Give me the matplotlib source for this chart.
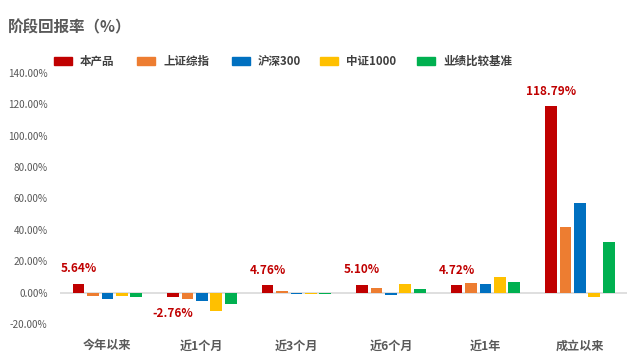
import matplotlib
matplotlib.use("Agg")
import matplotlib.pyplot as plt
from matplotlib.patches import Rectangle
import numpy as np

plt.rcParams['font.family'] = ['Noto Sans CJK SC', 'DejaVu Sans']

categories = ["今年以来", "近1个月", "近3个月", "近6个月", "近1年", "成立以来"]
series_names = ["本产品", "上证综指", "沪深300", "中证1000", "业绩比较基准"]
colors = ["#C00000", "#ED7D31", "#0070C0", "#FFC000", "#00B050"]
product = [5.64, -2.76, 4.76, 5.10, 4.72, 118.79]
sse = [-2.2, -4.3, 0.8, 3.0, 6.2, 42.0]
csi300 = [-4.3, -5.5, -0.9, -1.3, 5.5, 57.1]
csi1000 = [-2.1, -11.9, -0.9, 5.7, 10.0, -2.5]
benchmark = [-2.8, -7.5, -1.0, 2.4, 6.8, 32.3]
yticks = [-20, 0, 20, 40, 60, 80, 100, 120, 140]

data = [product, sse, csi300, csi1000, benchmark]

fig = plt.figure(figsize=(6.4, 3.61), dpi=100)
ax = fig.add_axes([0.094, 0.1025, 0.886, 0.6953])

x = np.arange(len(categories))
pitch = 0.153
width = 0.125
for i, (vals, c) in enumerate(zip(data, colors)):
    ax.bar(x + (i - 2) * pitch, vals, width=width, color=c, zorder=2)

ax.axhline(0, color="#D9D9D9", lw=1.2, zorder=1)
ax.set_xlim(-0.5, len(categories) - 0.5)
ax.set_ylim(-20, 140)
ax.set_yticks(yticks)
ax.set_yticklabels([f"{v:.2f}%" for v in yticks], fontsize=7.2, color="#595959")
ax.set_xticks(x)
ax.set_xticklabels(categories, fontsize=8.7, color="#595959", fontweight="bold")
ax.tick_params(axis='both', length=0)
ax.tick_params(axis='x', pad=11)
ax.tick_params(axis='y', pad=9)
for s in ax.spines.values():
    s.set_visible(False)

# data labels for product
for xi, v in zip(x, product):
    xp = xi - 2 * pitch
    if v >= 0:
        ax.annotate(f"{v:.2f}%", (xp, v), xytext=(0, 6), textcoords="offset points",
                    ha="center", va="bottom", color="#C00000", fontsize=8.5,
                    fontweight="bold")
    else:
        ax.annotate(f"{v:.2f}%", (xp, v), xytext=(0, -7), textcoords="offset points",
                    ha="center", va="top", color="#C00000", fontsize=8.5,
                    fontweight="bold")

# title
fig.text(8 / 640, 1 - 27 / 361, "阶段回报率（%）", fontsize=11.2, fontweight="bold",
         color="#595959", va="center", ha="left")

# legend (manual)
patch_x = [54, 137, 232, 320, 417]
for px, name, c in zip(patch_x, series_names, colors):
    fig.add_artist(Rectangle((px / 640, 1 - 64.5 / 361), 18 / 640, 7 / 361,
                             transform=fig.transFigure, color=c))
    fig.text((px + 26) / 640, 1 - 61 / 361, name, fontsize=8.3, fontweight="bold",
             color="#404040", va="center", ha="left")

fig.savefig("out.png", dpi=100)
